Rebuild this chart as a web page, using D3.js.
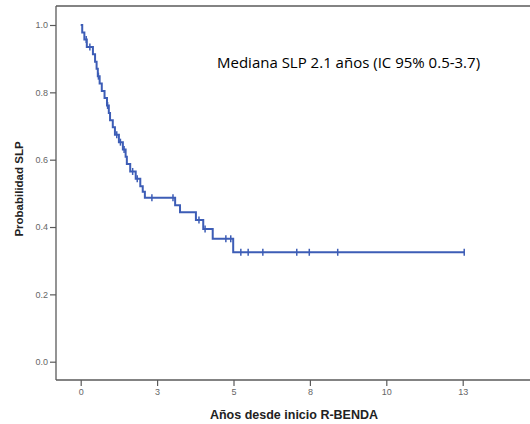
<!DOCTYPE html>
<html>
<head>
<meta charset="utf-8">
<script src="https://cdn.jsdelivr.net/npm/d3@7"></script>
<style>
  html, body { margin: 0; padding: 0; background: #fff; }
  svg { display: block; }
</style>
</head>
<body>
<svg id="chart" width="530" height="424"></svg>
<script>
// ---- data ----
const eventTimes = [0, 0.05, 0.12, 0.20, 0.40, 0.47, 0.52, 0.56, 0.62, 0.69, 0.78, 0.86, 0.92, 0.96, 1.05, 1.12, 1.25, 1.38, 1.47, 1.51, 1.62, 1.80, 1.95, 2.03, 2.10, 3.09, 3.25, 3.77, 4.01, 4.32, 4.99];
const survival   = [1.0, 0.978, 0.957, 0.935, 0.913, 0.891, 0.870, 0.848, 0.826, 0.804, 0.783, 0.761, 0.739, 0.717, 0.696, 0.674, 0.652, 0.630, 0.609, 0.587, 0.565, 0.543, 0.521, 0.505, 0.487, 0.465, 0.444, 0.421, 0.394, 0.365, 0.325];
const lastTime = 12.55;
const censorTimes = [0.18, 0.30, 0.58, 0.88, 1.18, 1.30, 1.42, 1.70, 1.85, 2.33, 3.02, 3.87, 4.07, 4.75, 4.91, 5.24, 5.48, 5.96, 7.07, 7.48, 8.41, 12.55];
const xTickValues = [0, 2.5, 5, 7.5, 10, 12.5];
const xTickLabels = ["0", "3", "5", "8", "10", "13"];
const yTickValues = [0, 0.2, 0.4, 0.6, 0.8, 1.0];
const yTitle = "Probabilidad SLP";
const xTitle = "Años desde inicio R-BENDA";
const annotation = "Mediana SLP 2.1 años (IC 95% 0.5-3.7)";

// ---- layout ----
const svg = d3.select("#chart");
const frame = { left: 56, top: 6, bottom: 380, right: 530 };
const x = d3.scaleLinear().domain([0, 12.5]).range([80.7, 462.7]);
const y = d3.scaleLinear().domain([0, 1]).range([361.7, 25]);
const axisColor = "#5a5a5a";
const lineColor = "#3d5db6";

// frame
svg.append("line").attr("x1", frame.left).attr("x2", frame.right).attr("y1", frame.top).attr("y2", frame.top)
  .attr("stroke", axisColor).attr("stroke-width", 1.3);
svg.append("line").attr("x1", frame.left).attr("x2", frame.right).attr("y1", frame.bottom).attr("y2", frame.bottom)
  .attr("stroke", axisColor).attr("stroke-width", 1.3);
svg.append("line").attr("x1", frame.left).attr("x2", frame.left).attr("y1", frame.top).attr("y2", frame.bottom)
  .attr("stroke", axisColor).attr("stroke-width", 1.3);

// y axis
const yAxis = svg.append("g").attr("transform", `translate(${frame.left},0)`)
  .call(d3.axisLeft(y).tickValues(yTickValues).tickFormat(d3.format(".1f")).tickSize(6).tickPadding(2));
yAxis.select(".domain").remove();
yAxis.selectAll("line").attr("stroke", axisColor).attr("stroke-width", 1.2);
yAxis.selectAll("text").attr("fill", "#666").style("font-family", "Liberation Sans, Arial, sans-serif").style("font-size", "9px");

// x axis
const xAxis = svg.append("g").attr("transform", `translate(0,${frame.bottom})`)
  .call(d3.axisBottom(x).tickValues(xTickValues).tickFormat((d, i) => xTickLabels[i]).tickSize(6).tickPadding(3));
xAxis.select(".domain").remove();
xAxis.selectAll("line").attr("stroke", axisColor).attr("stroke-width", 1.2);
xAxis.selectAll("text").attr("fill", "#666").style("font-family", "Liberation Sans, Arial, sans-serif").style("font-size", "9px");

// titles
svg.append("text").attr("transform", "translate(23,189) rotate(-90)")
  .attr("text-anchor", "middle").attr("fill", "#222")
  .style("font-family", "Liberation Sans, Arial, sans-serif").style("font-size", "11.5px").style("font-weight", "bold")
  .text(yTitle);
svg.append("text").attr("x", 294).attr("y", 419)
  .attr("text-anchor", "middle").attr("fill", "#222")
  .style("font-family", "Liberation Sans, Arial, sans-serif").style("font-size", "12.5px").style("font-weight", "bold")
  .text(xTitle);

// annotation
svg.append("text").attr("x", 217).attr("y", 68)
  .attr("fill", "#000")
  .style("font-family", "Open Sans, Liberation Sans, sans-serif").style("font-size", "15px")
  .text(annotation);

// KM curve
const pts = eventTimes.map((t, i) => [t, survival[i]]);
pts.push([lastTime, survival[survival.length - 1]]);
const line = d3.line().x(d => x(d[0])).y(d => y(d[1])).curve(d3.curveStepAfter);
svg.append("path").attr("d", line(pts)).attr("fill", "none")
  .attr("stroke", lineColor).attr("stroke-width", 2);

// censor marks
function survAt(t) {
  let s = survival[0];
  for (let i = 0; i < eventTimes.length; i++) { if (eventTimes[i] <= t) s = survival[i]; }
  return s;
}
svg.selectAll(".censor").data(censorTimes).enter().append("line")
  .attr("class", "censor")
  .attr("x1", d => x(d)).attr("x2", d => x(d))
  .attr("y1", d => y(survAt(d)) - 3.5).attr("y2", d => y(survAt(d)) + 3.5)
  .attr("stroke", lineColor).attr("stroke-width", 1.5);
</script>
</body>
</html>
